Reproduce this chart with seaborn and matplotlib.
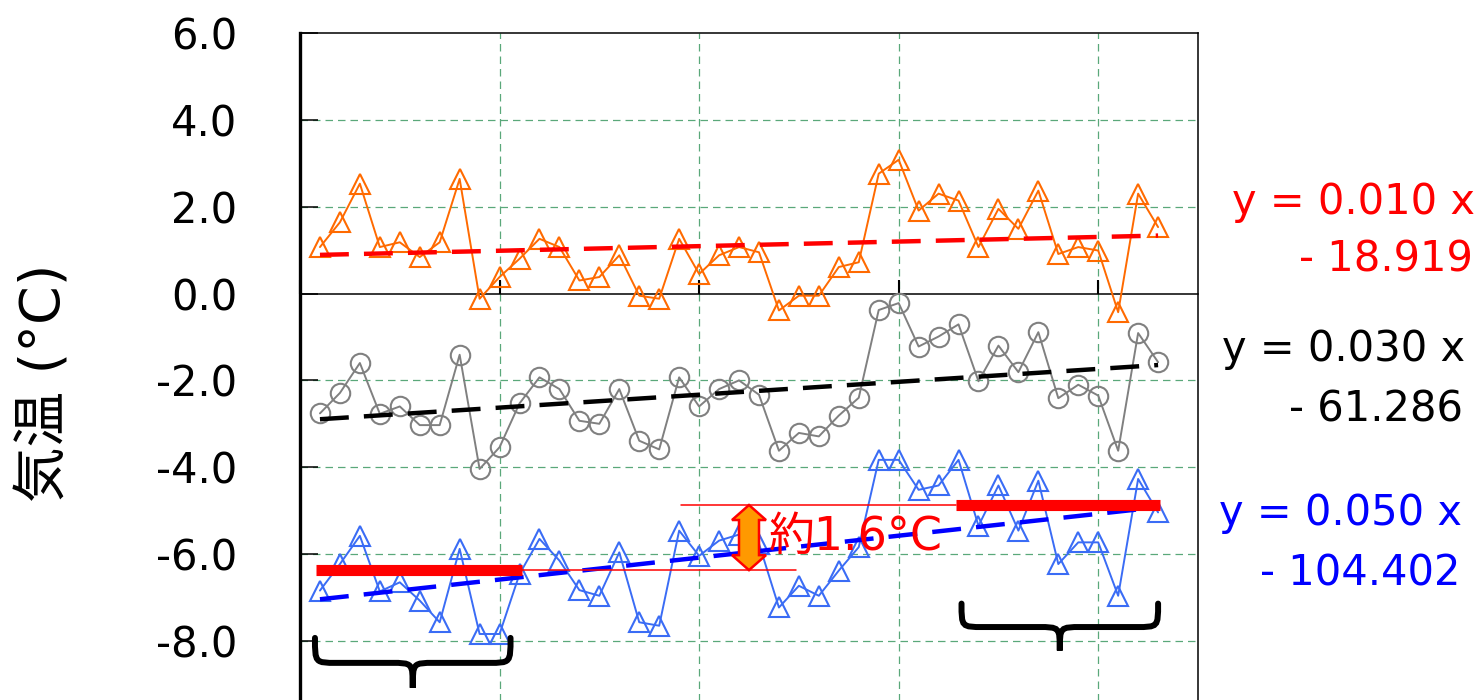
import numpy as np
import matplotlib
matplotlib.use("Agg")
import matplotlib.pyplot as plt
from matplotlib.path import Path
from matplotlib.patches import PathPatch, Polygon
import seaborn as sns

# 年 (1951-1993)
years = np.arange(1951, 1994)

# 各系列の気温
orange_vals = [1.07, 1.64, 2.53, 1.07, 1.18, 0.84, 1.18, 2.64, -0.12, 0.38,
               0.80, 1.26, 1.07, 0.30, 0.38, 0.88, -0.05, -0.12, 1.26, 0.45,
               0.88, 1.07, 0.95, -0.39, -0.05, -0.05, 0.61, 0.72, 2.76, 3.08,
               1.91, 2.30, 2.14, 1.07, 1.95, 1.49, 2.37, 0.91, 1.07, 0.99,
               -0.43, 2.30, 1.53]
gray_vals = [-2.76, -2.29, -1.60, -2.77, -2.60, -3.03, -3.03, -1.41, -4.04, -3.54,
             -2.53, -1.93, -2.20, -2.93, -3.00, -2.20, -3.39, -3.59, -1.93, -2.60,
             -2.20, -2.00, -2.33, -3.62, -3.21, -3.29, -2.81, -2.40, -0.38, -0.22,
             -1.22, -0.99, -0.71, -2.02, -1.20, -1.81, -0.89, -2.41, -2.10, -2.35,
             -3.62, -0.91, -1.58]
blue_vals = [-6.84, -6.23, -5.58, -6.86, -6.65, -7.07, -7.57, -5.88, -7.84, -7.84,
             -6.46, -5.65, -6.15, -6.83, -6.96, -5.96, -7.57, -7.65, -5.46, -6.04,
             -5.69, -5.55, -5.76, -7.23, -6.73, -6.96, -6.38, -5.84, -3.83, -3.83,
             -4.52, -4.42, -3.83, -5.35, -4.42, -5.46, -4.31, -6.23, -5.73, -5.73,
             -6.96, -4.27, -5.04]

# 回帰式のテキスト
eq_texts = [("y = 0.010 x", "- 18.919"), ("y = 0.030 x", "- 61.286"), ("y = 0.050 x", "- 104.402")]
eq_colors = ["#ff0000", "#000000", "#0000ff"]

# 前期・後期の平均 (赤い太線)
early_span = (1950.8, 1961.1)
late_span = (1982.85, 1993.1)
early_level = -6.37
late_level = -4.87
early_guide_end = 1974.85
late_guide_start = 1969.1
arrow_year = 1972.5
diff_label = "約1.6°C"

# 波括弧
braces = [(1950.75, 1960.55, -7.93, -9.08), (1983.15, 1993.0, -7.14, -8.22)]

ytick_vals = [6, 4, 2, 0, -2, -4, -6, -8]

sns.set_style("white")
plt.rcParams["font.family"] = ["DejaVu Sans", "Noto Sans CJK JP"]
plt.rcParams["text.color"] = "black"

fig = plt.figure(figsize=(14.82, 7.0), dpi=100)
ax = fig.add_axes([300 / 1482, -0.0397, 898 / 1482, 0.9926])

grid_color = "#5aa87a"
for yv in [4, 2, -2, -4, -6, -8]:
    ax.axhline(yv, color=grid_color, lw=0.9, ls=(0, (6, 4)), zorder=0)
for xv in [1960, 1970, 1980, 1990]:
    ax.axvline(xv, color=grid_color, lw=0.9, ls=(0, (6, 4)), zorder=0)

series = [(orange_vals, "#ff6a00", "^"), (gray_vals, "#808080", "o"), (blue_vals, "#3a6cf5", "^")]
for vals, col, mk in series:
    sns.lineplot(x=years, y=vals, ax=ax, color=col, lw=1.4, marker=mk, ms=14,
                 mfc="none", mec=col, mew=1.5, zorder=3)

for (vals, _, _), col in zip(series, eq_colors):
    sns.regplot(x=years, y=vals, ax=ax, scatter=False, ci=None, truncate=True,
                color=col, line_kws=dict(lw=3.2, ls=(0, (6.5, 3.4)), zorder=4))

ax.set_xlim(1950, 1995)
ax.set_ylim(-10, 6)
ax.set_xlabel("")
ax.set_ylabel("")

# 前期・後期の水準
ax.plot(early_span, [early_level] * 2, color="red", lw=8, solid_capstyle="butt", zorder=5)
ax.plot(late_span, [late_level] * 2, color="red", lw=8, solid_capstyle="butt", zorder=5)
ax.plot([early_span[1], early_guide_end], [early_level] * 2, color="red", lw=1.1, zorder=5)
ax.plot([late_guide_start, late_span[0]], [late_level] * 2, color="red", lw=1.1, zorder=5)

# 両矢印
fig.canvas.draw()
tr = ax.transData
cx, top = tr.transform((arrow_year, late_level))
_, bot = tr.transform((arrow_year, early_level))
hw, sw, hl = 17, 10, 15
pts_pix = [(cx, top), (cx + hw, top - hl), (cx + sw, top - hl), (cx + sw, bot + hl),
           (cx + hw, bot + hl), (cx, bot), (cx - hw, bot + hl), (cx - sw, bot + hl),
           (cx - sw, top - hl), (cx - hw, top - hl)]
pts = tr.inverted().transform(pts_pix)
ax.add_patch(Polygon(pts, closed=True, fc="#ff9900", ec="red", lw=1.8, zorder=6))

ax.text(arrow_year + 1.0, -5.62, diff_label, color="red", fontsize=33,
        ha="left", va="center", zorder=7)

# 波括弧
for x0, x1, ytop, ytip in braces:
    xm = (x0 + x1) / 2
    ymid = (ytop + ytip) / 2
    q = 1.1
    verts = [(x0, ytop), (x0, ymid), (x0, ymid), (x0 + q, ymid),
             (xm - q, ymid), (xm, ymid), (xm, ymid), (xm, ytip),
             (xm, ymid), (xm, ymid), (xm + q, ymid),
             (x1 - q, ymid), (x1, ymid), (x1, ymid), (x1, ytop)]
    codes = [Path.MOVETO, Path.CURVE4, Path.CURVE4, Path.CURVE4,
             Path.LINETO, Path.CURVE4, Path.CURVE4, Path.CURVE4,
             Path.CURVE4, Path.CURVE4, Path.CURVE4,
             Path.LINETO, Path.CURVE4, Path.CURVE4, Path.CURVE4]
    ax.add_patch(PathPatch(Path(verts, codes), fc="none", ec="black", lw=4.3,
                           capstyle="round", zorder=6))

# 軸
ax.spines["bottom"].set_position(("data", 0))
ax.spines["bottom"].set_linewidth(1.1)
ax.spines["left"].set_linewidth(2.4)
ax.spines["top"].set_linewidth(1.1)
ax.spines["right"].set_linewidth(1.1)
for s in ax.spines.values():
    s.set_color("black")
    s.set_zorder(2)

ax.set_yticks(ytick_vals)
ax.set_yticklabels([f"{v:.1f}" for v in ytick_vals])
ax.set_xticks([1950, 1960, 1970, 1980, 1990])
ax.tick_params(axis="y", direction="in", length=13, width=1.1, labelsize=30, pad=45,
               left=True, colors="black")
ax.tick_params(axis="x", direction="in", length=10, width=1.5, bottom=True,
               labelbottom=False, colors="black")

fig.text(45 / 1482, 1 - 383 / 700, "気温 (°C)", rotation=90, fontsize=40,
         ha="center", va="center", color="black")

eq_pos = [(1475, 202, 259), (1465, 349, 409), (1462, 513, 573)]
for (l1, l2), col, (xr, y1, y2) in zip(eq_texts, eq_colors, eq_pos):
    fig.text(xr / 1482, 1 - y1 / 700, l1, color=col, fontsize=30, ha="right", va="center")
    fig.text((xr - 2) / 1482, 1 - y2 / 700, l2, color=col, fontsize=30, ha="right", va="center")

fig.savefig("out.png", dpi=100)
